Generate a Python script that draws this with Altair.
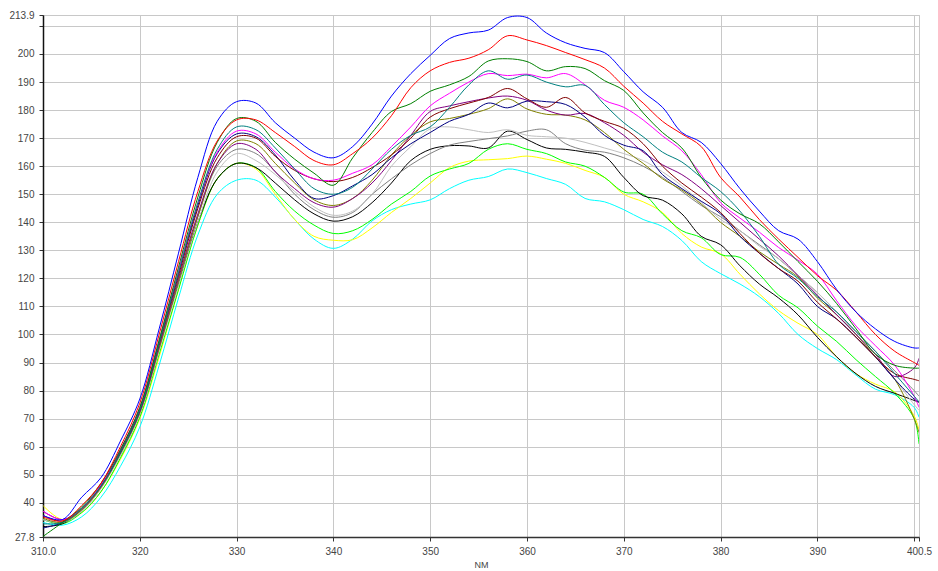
import altair as alt
import pandas as pd

# Wavelength grid (nm)
NM = [310, 312, 314, 316, 318, 320, 322, 324, 326, 328,
      330, 332, 334, 336, 338, 340, 342, 344, 346, 348,
      350, 352, 354, 356, 358, 360, 362, 364, 366, 368,
      370, 372, 374, 376, 378, 380, 382, 384, 386, 388,
      390, 392, 394, 396, 398, 400, 400.5]

BLUE = [35.5, 34, 42, 49, 62, 77, 102, 129, 156, 176,
        183, 182.5, 175.5, 170, 165, 163, 167, 175, 185, 193,
        199.5, 205.5, 207.5, 208.5, 213, 213, 207.5, 204, 202, 200.5,
        193.7, 186.5, 181, 172, 168.5, 161, 152, 144, 137, 134,
        126, 116, 108, 102, 97.5, 95.2, 95.2]
RED = [35, 33.5, 39, 47, 60, 75.5, 100, 126, 151, 169,
       176.5, 176.5, 172, 167, 162, 160.5, 164.5, 170, 178, 188,
       194, 197, 198.5, 201.5, 206.5, 205, 203, 200.5, 198, 195,
       188.5, 182.5, 176, 171.5, 167, 156, 149, 141, 134, 127.5,
       121, 115.7, 108, 100, 94, 90, 89]
GREEN = [28, 33, 38.5, 47, 59, 74, 98, 124, 149, 168.5,
         177, 176, 168.5, 162.5, 157.5, 153.2, 163, 172, 179.5, 182.3,
         186.7, 189, 192, 197.5, 198.3, 197.3, 194, 195.5, 194.8, 190.5,
         187, 179, 172, 166.5, 156, 148, 143, 139.5, 133, 126,
         119, 111, 102, 93, 89, 88, 88]
TEAL = [32.5, 33, 38, 46, 58, 73, 97, 122, 147, 166,
        174, 173, 166.5, 159, 152, 150, 152.5, 159, 166, 171,
        174, 181, 189, 194, 191, 192.5, 190, 188.3, 188.8, 182,
        175.5, 170.5, 165, 161.5, 156, 151, 144, 135, 125, 120,
        113.5, 108, 101, 94, 86, 78, 76]
MAGENTA = [37, 34, 38, 46.5, 59, 74, 98, 123, 147, 165,
           172.5, 171.5, 165, 159, 155.5, 155, 157.5, 160.5, 167, 174,
           181.5, 186, 190, 193, 192.3, 192.8, 191.5, 193, 189, 183.5,
           181, 176.5, 170.8, 165.5, 157, 147, 141.5, 136.5, 131, 126.5,
           121.5, 112, 103, 96, 89, 78, 74]
MAROON = [35.5, 33.5, 38, 46.5, 58.5, 73.5, 97, 121, 145, 163,
          170.5, 170, 163.5, 158.5, 155.5, 154.5, 156, 159.5, 164, 170,
          177.5, 180.5, 182.5, 184.5, 187.7, 184, 181, 184.5, 179, 176,
          173.5, 168, 160, 154, 149, 143.5, 136, 129, 123.5, 119,
          111.5, 105.5, 99, 92, 86, 84, 83.5]
NAVY = [31, 33, 38, 46, 58, 73, 97, 122, 146, 164.5,
        171.5, 170.5, 164, 155, 148.5, 149.5, 153, 157, 163, 168,
        172, 176, 178.5, 182.5, 180.8, 183.2, 183, 182, 177.5, 171,
        167.5, 165.5, 157, 152, 147.5, 143, 135, 129, 123.5, 118,
        110, 105.5, 99, 92, 84, 77, 76]
PURPLE = [37, 34, 38, 46, 58, 72.5, 96, 120, 143, 161,
          168, 166, 158, 152, 147, 145.4, 148.5, 154, 162, 171,
          179.5, 181.5, 183, 184.3, 185, 183.5, 180, 178.2, 178.8, 175.5,
          171, 165, 160.5, 157, 152, 146, 140, 134, 128, 121,
          114, 107, 100, 93, 85, 88, 91.5]
OLIVE = [34.5, 33, 37.5, 45.5, 57.5, 72, 95, 119, 142, 161,
         169, 168, 161, 154, 148, 146, 148.5, 155, 164, 171,
         175.8, 177, 178.5, 180.5, 184, 180.4, 178.5, 178.2, 176.5, 172,
         166, 161, 155.5, 151.5, 146.5, 140, 135, 129.5, 125, 120.5,
         113, 107, 100, 92, 84, 70, 65]
SILVER = [34, 33, 37, 45, 57, 71.5, 94, 117.5, 140, 158,
          164.5, 162, 157, 151, 145.5, 142.5, 144, 150, 160, 167,
          173.3, 174, 173, 172, 173, 171, 170.5, 170, 168.5, 166.5,
          164.5, 162, 158, 153, 147, 141, 137, 131.5, 127, 121,
          115, 108, 100, 92, 84, 75, 73]
GRAY = [34, 33, 37, 45.5, 57, 72, 95, 119, 142, 160,
        166, 164.5, 158, 150, 144.5, 141.8, 143.5, 150, 155.5, 160.5,
        164.5, 167.5, 168.8, 169.8, 170.8, 172.5, 173, 168, 165.7, 165,
        163, 160, 156, 151, 146, 142, 137, 132, 127, 121,
        115, 108, 101, 94, 87, 80, 78]
BLACK = [31.5, 32.5, 37.5, 45.5, 57.5, 72, 95, 118, 140, 155.5,
         161, 159.5, 154, 148, 143, 140.4, 142, 147, 154, 162,
         166, 167.3, 167.2, 166.5, 172.5, 169.5, 166.5, 166, 165, 163.5,
         156, 149.5, 147.9, 143, 135, 132, 124.5, 118, 113, 107,
         99, 92, 86, 81.5, 79, 76.5, 75.8]
LIME = [34, 32.5, 36.5, 44, 56, 70.5, 93, 116, 139, 155.5,
        161, 159.5, 151, 144, 139, 136, 137, 141, 146.5, 151,
        156.5, 159, 161, 166, 168, 166, 164.5, 161.5, 160, 156,
        150.8, 150, 143, 137, 134.5, 128.5, 127.5, 121.5, 114, 109.5,
        103, 97.5, 91, 85, 79, 70, 61]
YELLOW = [39, 34, 36.5, 44, 55.5, 70, 92, 116, 139, 155.5,
          161, 159, 150, 141, 135, 133.6, 133.8, 138, 143.5, 148.5,
          154, 159.5, 161.8, 162.3, 162.7, 163.6, 162.5, 161, 158.5, 156,
          150, 147.3, 143.5, 136, 131.2, 128.8, 121.5, 114.5, 108.5, 104,
          100, 92, 86, 82.3, 79.5, 71, 66]
CYAN = [33, 32, 35, 42, 53, 67, 89, 113, 135.5, 150,
        155, 155, 149, 141, 134, 130.7, 134, 140.5, 144.5, 146.5,
        148, 152, 155, 156.3, 159, 157.7, 155.6, 153.5, 148.5, 147.3,
        144.5, 141, 138.5, 133.5, 126, 121.7, 118, 113.5, 107.5, 100,
        95, 91, 85.5, 80.5, 78.5, 74, 70.5]

SERIES_NAMES = ["cyan", "yellow", "lime", "black", "gray", "silver", "olive",
                "purple", "navy", "maroon", "magenta", "teal", "green", "red", "blue"]
SERIES_VALUES = [CYAN, YELLOW, LIME, BLACK, GRAY, SILVER, OLIVE,
                 PURPLE, NAVY, MAROON, MAGENTA, TEAL, GREEN, RED, BLUE]
SERIES_COLORS = ["#00ffff", "#ffff00", "#00ff00", "#000000", "#808080", "#c0c0c0", "#808000",
                 "#800080", "#000080", "#800000", "#ff00ff", "#008080", "#008000", "#ff0000", "#0000ff"]

X_TICKS = [310, 320, 330, 340, 350, 360, 370, 380, 390, 400, 400.5]
Y_TICKS = [27.8, 40, 50, 60, 70, 80, 90, 100, 110, 120, 130, 140, 150,
           160, 170, 180, 190, 200, 210, 213.9]

rows = []
for order, (name, vals) in enumerate(zip(SERIES_NAMES, SERIES_VALUES)):
    for nm, v in zip(NM, vals):
        rows.append({"nm": nm, "value": v, "series": name, "order": order})
df = pd.DataFrame(rows)

FONT = "Liberation Sans"
LABEL_COLOR = "#454545"

x_axis = alt.Axis(
    values=X_TICKS,
    labelExpr="datum.value == 310 ? '310.0' : datum.value == 400 ? '' : datum.value == 400.5 ? '400.5' : format(datum.value, 'd')",
    title="NM",
    titleFont=FONT, titleFontSize=9, titleFontWeight="normal", titleColor=LABEL_COLOR,
    titlePadding=4,
    labelFont=FONT, labelFontSize=10, labelColor=LABEL_COLOR,
    labelFlush=False, labelOverlap=False, labelPadding=5,
    tickSize=4, tickColor="#333333",
    domainColor="#333333", domainWidth=1.5,
    grid=True, gridColor="#c8c8c8", gridWidth=1,
)
y_axis = alt.Axis(
    values=Y_TICKS,
    labelExpr="datum.value == 210 ? '' : datum.value == 213.9 ? '213.9' : datum.value == 27.8 ? '27.8' : format(datum.value, 'd')",
    title=None,
    labelFont=FONT, labelFontSize=10, labelColor=LABEL_COLOR,
    labelFlush=False, labelOverlap=False, labelPadding=5,
    tickSize=4, tickColor="#333333",
    domainColor="#111111", domainWidth=1.5,
    grid=True, gridColor="#c8c8c8", gridWidth=1,
)

chart = alt.Chart(df).mark_line(strokeWidth=1, interpolate="catmull-rom", clip=True).encode(
    x=alt.X("nm:Q", scale=alt.Scale(domain=[310, 400.5], nice=False, zero=False), axis=x_axis),
    y=alt.Y("value:Q", scale=alt.Scale(domain=[27.8, 213.9], nice=False, zero=False), axis=y_axis),
    color=alt.Color("series:N", scale=alt.Scale(domain=SERIES_NAMES, range=SERIES_COLORS), legend=None),
    order=alt.Order("order:Q"),
).properties(
    width=876,
    height=522,
    padding={"left": 43, "top": 15, "right": 19, "bottom": 34},
    autosize=alt.AutoSizeParams(type="none"),
    background="white",
).configure_view(
    stroke="#c8c8c8", strokeWidth=1,
)

chart.save("out.html", embed_options={"renderer": "svg", "actions": False})
